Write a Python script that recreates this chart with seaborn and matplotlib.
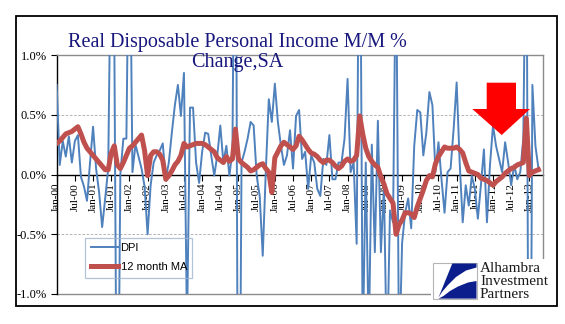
import numpy as np
import pandas as pd
import matplotlib
matplotlib.use("Agg")
import matplotlib.pyplot as plt
import seaborn as sns
from matplotlib.patches import Rectangle, Polygon
from matplotlib.ticker import FuncFormatter

# ---------------- data (monthly, Jan-2000 .. Apr-2013, % m/m) ----------------
dpi = [
    0.75, 0.08, 0.28, 0.15, 0.32, 0.10, 0.28, 0.33, -0.02, -0.10, -0.22, 0.10,   # 2000
    0.40, 0.05, -0.15, -0.44, -0.20, 0.05, 2.20, 1.20, -3.00, 0.00, 0.30, 0.30,   # 2001
    2.50, 0.02, 0.25, 0.15, 0.05, -0.10, -0.50, -0.09, 0.10, 0.16, 0.20, 0.26,    # 2002
    -0.04, 0.10, 0.35, 0.58, 0.75, 0.49, 0.85, -1.30, 0.56, 0.56, 0.10, -0.07,    # 2003
    0.19, 0.35, 0.34, 0.16, -0.01, 0.16, 0.41, 0.10, 0.24, -0.01, 0.20, 3.60,     # 2004
    -4.00, 0.10, 0.19, 0.30, 0.44, 0.41, -0.01, -0.18, -0.68, 0.02, 0.63, 0.44,   # 2005
    0.76, 0.44, 0.24, 0.08, 0.16, 0.37, 0.05, 0.49, 0.54, 0.13, 0.19, -0.12,      # 2006
    0.16, 0.10, -0.12, -0.18, 0.13, 0.08, 0.33, -0.04, -0.04, 0.10, 0.10, 0.30,   # 2007
    0.80, 0.02, 0.10, -0.58, 3.00, -1.50, 0.10, -1.40, 0.25, -0.65, 0.45, -0.65,  # 2008
    -0.10, -1.60, -0.30, -0.40, 2.00, -1.60, -0.57, -0.32, -0.20, -0.45, 0.24, 0.54,  # 2009
    0.52, 0.16, 0.35, 0.69, 0.58, 0.02, 0.27, -0.04, -0.32, 0.02, 0.05, 0.38,     # 2010
    0.77, 0.10, -0.40, -0.09, -0.26, -0.01, -0.12, -0.37, -0.09, 0.21, -0.40, 0.08,  # 2011
    0.41, 0.24, 0.13, 0.02, 0.27, 0.10, -0.09, 0.08, -0.04, 0.02, 0.30, 2.60,     # 2012
    -4.00, 0.75, 0.24, 0.05,                                                      # 2013
]
ma12 = [
    0.26, 0.28, 0.31, 0.34, 0.35, 0.36, 0.38, 0.40, 0.34, 0.27, 0.22, 0.19,
    0.16, 0.13, 0.10, 0.07, 0.04, 0.04, 0.18, 0.24, 0.08, 0.05, 0.10, 0.16,
    0.22, 0.24, 0.27, 0.30, 0.33, 0.20, -0.01, 0.16, 0.19, 0.19, 0.17, 0.12,
    -0.04, -0.01, 0.03, 0.08, 0.11, 0.16, 0.26, 0.23, 0.24, 0.25, 0.26, 0.26,
    0.26, 0.25, 0.23, 0.21, 0.19, 0.14, 0.12, 0.10, 0.15, 0.11, 0.13, 0.38,
    0.13, 0.10, 0.08, 0.06, 0.03, 0.04, 0.06, 0.08, 0.09, 0.05, 0.02, -0.15,
    0.14, 0.19, 0.24, 0.27, 0.25, 0.23, 0.21, 0.24, 0.32, 0.29, 0.25, 0.21,
    0.18, 0.17, 0.15, 0.12, 0.10, 0.12, 0.12, 0.10, 0.07, 0.05, 0.07, 0.11,
    0.13, 0.11, 0.12, 0.16, 0.49, 0.34, 0.22, 0.15, 0.11, 0.08, 0.06, -0.02,
    -0.08, -0.16, -0.20, -0.24, -0.50, -0.42, -0.38, -0.32, -0.32, -0.33, -0.36, -0.27,
    -0.20, -0.13, -0.05, -0.01, -0.02, 0.09, 0.15, 0.19, 0.23, 0.22, 0.22, 0.22,
    0.23, 0.21, 0.18, 0.10, 0.03, 0.02, 0.01, 0.00, -0.03, -0.04, -0.05, -0.07,
    -0.09, -0.06, -0.04, -0.02, 0.01, 0.03, 0.05, 0.06, 0.08, 0.09, 0.10, 0.47,
    -0.01, 0.02, 0.03, 0.04,
]
tick_labels = [
    "Jan-00", "Jul-00", "Jan-01", "Jul-01", "Jan-02", "Jul-02", "Jan-03", "Jul-03",
    "Jan-04", "Jul-04", "Jan-05", "Jul-05", "Jan-06", "Jul-06", "Jan-07", "Jul-07",
    "Jan-08", "Jul-08", "Jan-09", "Jul-09", "Jan-10", "Jul-10", "Jan-11", "Jul-11",
    "Jan-12", "Jul-12", "Jan-13",
]
y_ticks = [-1.0, -0.5, 0.0, 0.5, 1.0]
series_names = ["DPI", "12 month MA"]
title_lines = ["Real Disposable Personal Income M/M %", "Change,SA"]
logo_lines = ["Alhambra", "Investment", "Partners"]

df = pd.DataFrame({"month": np.arange(len(dpi)), series_names[0]: dpi, series_names[1]: ma12})

SERIF = "Liberation Serif"
SANS = "Liberation Sans"
W, H = 565, 324

def fx(px):
    return px / W

def fy(py):
    return 1 - py / H

fig = plt.figure(figsize=(W / 100, H / 100), dpi=100)
fig.patch.set_facecolor("white")
ax = fig.add_axes([fx(56.7), fy(294), (542.7 - 56.7) / W, (294 - 55) / H])
ax.set_facecolor("none")

sns.lineplot(data=df, x="month", y=series_names[0], ax=ax, color="#4F81BD",
             lw=1.4, label=series_names[0], zorder=3)
sns.lineplot(data=df, x="month", y=series_names[1], ax=ax, color="#C0504D",
             lw=3.6, label=series_names[1], zorder=4)

ax.set_xlim(0, 160.4)
ax.set_ylim(-1.0, 1.0)
ax.set_xlabel("")
ax.set_ylabel("")

# grid lines
for v in (0.5, -0.5):
    ax.axhline(v, color="#A6A6A6", lw=0.6, ls=(0, (3, 2)), zorder=1)
ax.axhline(-1.0, color="#8C8C8C", lw=1.0, zorder=1, clip_on=False)

# spines
for s in ("top", "right"):
    ax.spines[s].set_color("#8C8C8C")
    ax.spines[s].set_linewidth(1.0)
ax.spines["left"].set_color("black")
ax.spines["left"].set_linewidth(1.0)
ax.spines["bottom"].set_position(("data", 0))
ax.spines["bottom"].set_color("black")
ax.spines["bottom"].set_linewidth(1.0)
ax.spines["bottom"].set_zorder(2)

ax.set_xticks(np.arange(0, len(tick_labels) * 6, 6))
ax.set_xticklabels(tick_labels, rotation=90, fontfamily=SERIF, fontsize=8)
ax.tick_params(axis="x", direction="out", length=4, width=0.8, color="black", pad=2)
ax.set_yticks(y_ticks)
ax.yaxis.set_major_formatter(FuncFormatter(lambda v, p: f"{v:.1f}%"))
ax.tick_params(axis="y", direction="out", length=4, width=0.8, color="black", pad=3,
               labelsize=9)
for lab in ax.get_yticklabels():
    lab.set_fontfamily(SERIF)

# legend
leg = ax.legend(loc="upper left", bbox_to_anchor=(fx(85), fy(237.5)),
                bbox_transform=fig.transFigure, borderaxespad=0,
                prop={"family": SANS, "size": 8}, frameon=True, fancybox=False,
                handlelength=2.5, handletextpad=0.2, labelspacing=0.8,
                borderpad=0.5)
leg.get_frame().set_facecolor("none")
leg.get_frame().set_edgecolor("#9FB3CF")
leg.get_frame().set_linewidth(0.9)

# title
fig.text(fx(237), fy(42), title_lines[0], ha="center", va="center",
         fontfamily=SERIF, fontsize=14.5, color="#17177D")
fig.text(fx(237), fy(63), title_lines[1], ha="center", va="center",
         fontfamily=SERIF, fontsize=14.5, color="#17177D")

# red arrow annotation
arrow_px = [(486.7, 82.7), (516, 82.7), (516, 109), (530, 109), (501.7, 135),
            (472.3, 109), (486.7, 109)]
fig.patches.append(Polygon([(fx(x), fy(y)) for x, y in arrow_px], closed=True,
                           transform=fig.transFigure, facecolor="#FF0000",
                           edgecolor="none", zorder=10))

# logo area
fig.patches.append(Rectangle((fx(431), fy(303)), (555 - 431) / W, (303 - 259) / H,
                             transform=fig.transFigure, facecolor="white",
                             edgecolor="none", zorder=11))
fig.patches.append(Rectangle((fx(433.3), fy(299)), (476.7 - 433.3) / W, (299 - 262.7) / H,
                             transform=fig.transFigure, facecolor="white",
                             edgecolor="#B5B5B5", lw=0.8, zorder=12))
upper = [(452.3, 263.5), (476.5, 263.5), (476.5, 267.5), (466, 270.5), (456, 277),
         (448, 285), (442, 292), (438.5, 297.5)]
lower = [(438.5, 298.6), (476.5, 298.6), (476.5, 281), (468, 282.5), (458, 286.5),
         (450, 291), (443.5, 296)]
for shp in (upper, lower):
    fig.patches.append(Polygon([(fx(x), fy(y)) for x, y in shp], closed=True,
                               transform=fig.transFigure, facecolor="#0B1E8C",
                               edgecolor="none", zorder=13))
for i, t in enumerate(logo_lines):
    fig.text(fx(480), fy(269 + i * 12.5), t, ha="left", va="center",
             fontfamily=SERIF, fontsize=11, color="#1A1A1A", zorder=14)

# outer frame
fig.patches.append(Rectangle((fx(16), fy(306)), (557 - 16) / W, (306 - 16) / H,
                             transform=fig.transFigure, facecolor="none",
                             edgecolor="black", lw=1.3, zorder=15))

fig.savefig("out.png", dpi=100, facecolor="white")
